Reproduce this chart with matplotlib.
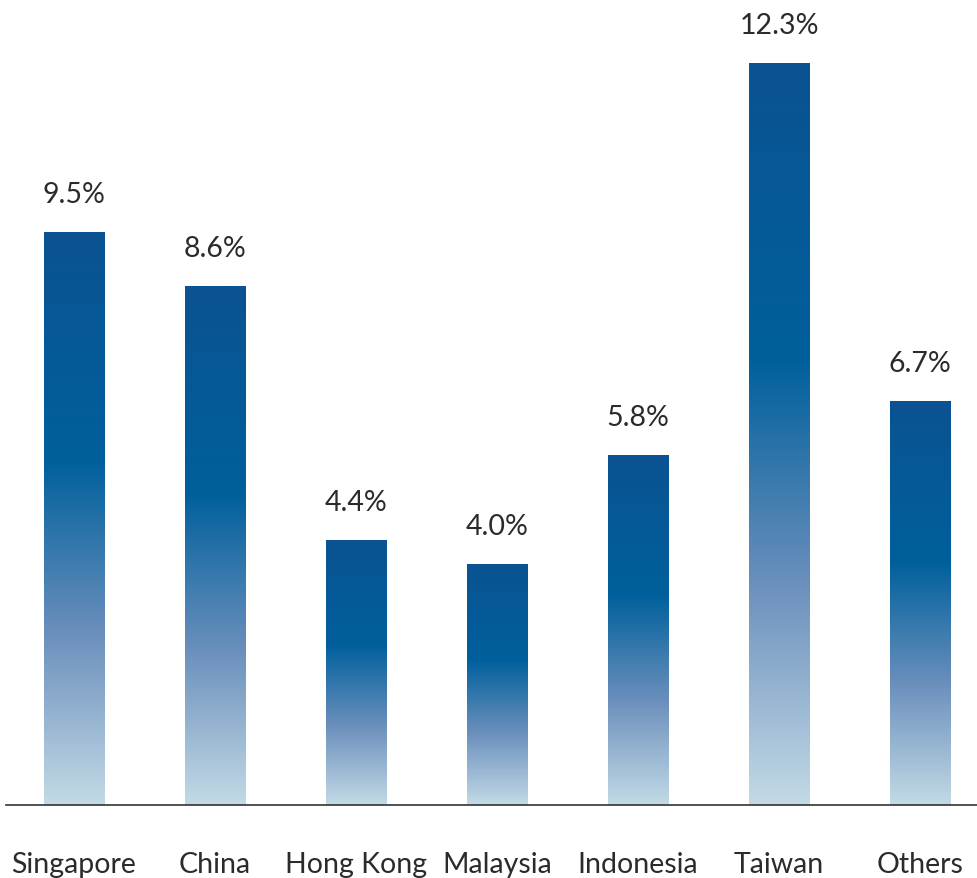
import matplotlib
matplotlib.use("Agg")
import matplotlib.pyplot as plt
from matplotlib.colors import LinearSegmentedColormap
import numpy as np

# ---------------------------------------------------------
# DATI
# ---------------------------------------------------------
categories = ["Singapore", "China", "Hong Kong", "Malaysia", "Indonesia", "Taiwan", "Others"]
values = [9.5, 8.6, 4.4, 4.0, 5.8, 12.3, 6.7]
value_labels = ["9.5%", "8.6%", "4.4%", "4.0%", "5.8%", "12.3%", "6.7%"]

# gradiente: dal basso (chiaro) all'alto (scuro)
grad = LinearSegmentedColormap.from_list(
    "bar_grad",
    [(0.0, "#c3dae6"), (0.3, "#6a8fbc"), (0.6, "#00609c"), (1.0, "#0b5292")]
)

plt.rcParams["font.family"] = ["Lato", "DejaVu Sans"]

fig = plt.figure(figsize=(9.78, 8.79), dpi=100)
ax = fig.add_axes([0.006, 0.083, 0.994, 0.917])

x = np.arange(len(categories))
bars = ax.bar(x, values, width=0.426, color="none", edgecolor="none")

# riempimento a gradiente per ogni barra
g = np.linspace(0, 1, 256).reshape(-1, 1)
for b in bars:
    x0, y0 = b.get_x(), b.get_y()
    w, h = b.get_width(), b.get_height()
    im = ax.imshow(g, cmap=grad, origin="lower", aspect="auto",
                   extent=[x0, x0 + w, y0, y0 + h], zorder=2)
    im.set_clip_path(b)

ax.set_xlim(-0.482, len(categories) - 1 + 0.41)
ax.set_ylim(0, 13.36)

for xi, v, lab in zip(x, values, value_labels):
    ax.annotate(lab, (xi, v), xytext=(0, 38), textcoords="offset pixels",
                ha="center", va="center", fontsize=20.5, color="#2b2b2b")

ax.set_xticks(x)
ax.set_xticklabels(categories, fontsize=20.5, color="#2b2b2b")
ax.tick_params(axis="x", length=0, pad=33)
ax.set_yticks([])

for s in ["top", "right", "left"]:
    ax.spines[s].set_visible(False)
ax.spines["bottom"].set_color("#333333")
ax.spines["bottom"].set_linewidth(1.2)

fig.savefig("out.png", dpi=100)
